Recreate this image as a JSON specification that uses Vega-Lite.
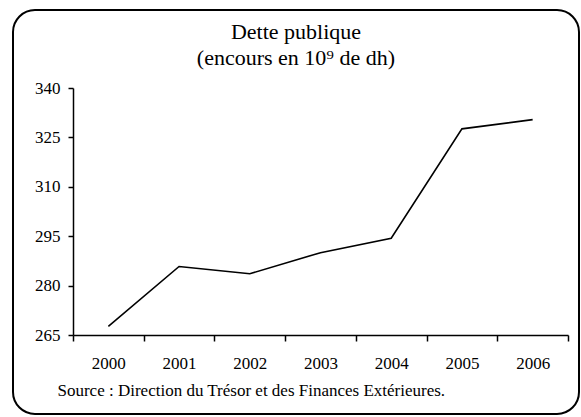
{
  "$schema": "https://vega.github.io/schema/vega-lite/v6.json",
  "width": 566,
  "height": 404,
  "autosize": {"type": "none"},
  "padding": {"left": 13, "top": 10, "right": 2, "bottom": 3},
  "background": "white",
  "title": {
    "text": ["Dette publique", "(encours en 10⁹ de dh)"],
    "anchor": "middle",
    "orient": "top",
    "offset": -77,
    "baseline": "alphabetic",
    "font": "Liberation Serif",
    "fontSize": 22,
    "fontWeight": "normal",
    "lineHeight": 26,
    "color": "black"
  },
  "data": {
    "values": [
      {"year": "2000", "value": 267.6},
      {"year": "2001", "value": 285.8},
      {"year": "2002", "value": 283.6},
      {"year": "2003", "value": 290.0},
      {"year": "2004", "value": 294.4},
      {"year": "2005", "value": 327.6},
      {"year": "2006", "value": 330.4}
    ]
  },
  "mark": {"type": "line", "color": "black", "strokeWidth": 1.6},
  "encoding": {
    "x": {
      "field": "year",
      "type": "ordinal",
      "bandPosition": 0.5,
      "scale": {"type": "band", "paddingInner": 0, "paddingOuter": 0, "range": [60, 555]},
      "axis": {
        "offset": -79,
        "tickBand": "extent",
        "labelAngle": 0,
        "tickSize": 6,
        "tickWidth": 1.5,
        "domainWidth": 1.5,
        "domainColor": "black",
        "tickColor": "black",
        "labelColor": "black",
        "labelFont": "Liberation Serif",
        "labelFontSize": 17,
        "labelPadding": 14,
        "grid": false,
        "title": "Source : Direction du Trésor et des Finances Extérieures.",
        "titleFont": "Liberation Serif",
        "titleFontSize": 17,
        "titleFontWeight": "normal",
        "titleColor": "black",
        "titleAnchor": "start",
        "titleAlign": "left",
        "titleX": 44,
        "titlePadding": 11
      }
    },
    "y": {
      "field": "value",
      "type": "quantitative",
      "scale": {"domain": [265, 340], "range": [325, 78], "nice": false, "zero": false},
      "axis": {
        "offset": -60,
        "values": [265, 280, 295, 310, 325, 340],
        "tickSize": 5,
        "tickWidth": 1.5,
        "domainWidth": 1.5,
        "domainColor": "black",
        "tickColor": "black",
        "labelColor": "black",
        "labelFont": "Liberation Serif",
        "labelFontSize": 17,
        "labelPadding": 8,
        "grid": false,
        "title": null
      }
    }
  },
  "config": {
    "font": "Liberation Serif",
    "view": {"stroke": "black", "strokeWidth": 2, "cornerRadius": 22, "fill": "white"}
  }
}
